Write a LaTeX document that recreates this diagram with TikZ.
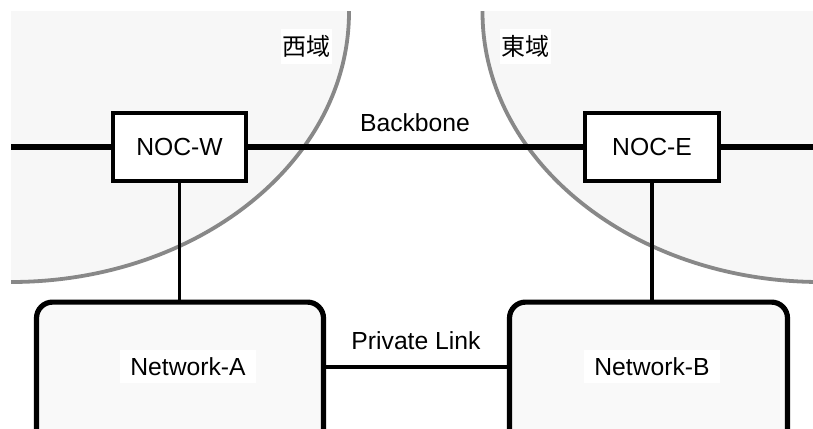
\documentclass[tikz,border=0pt]{standalone}
\usepackage{fontspec}
\setmainfont{Liberation Sans}
\newfontfamily\cjk{Noto Sans CJK JP}
\definecolor{regionfill}{HTML}{F7F7F7}
\definecolor{regionline}{HTML}{888888}
\definecolor{netfill}{HTML}{F9F9F9}
\begin{document}
\begin{tikzpicture}[x=1pt, y=-1pt,
  font=\fontsize{24.7}{30}\selectfont,
  region/.style={fill=regionfill, draw=regionline, line width=3.8pt},
  regionlabel/.style={fill=white, font=\cjk\fontsize{24}{29}\selectfont,
    minimum width=51pt, minimum height=34pt, inner sep=0pt},
  nocbox/.style={draw, line width=4.3pt, fill=white, minimum width=133pt,
    minimum height=68pt, inner sep=0pt},
  netbox/.style={draw, line width=5.2pt, fill=netfill, rounded corners=16pt,
    minimum height=170pt, inner sep=0pt, anchor=north},
  netlabel/.style={fill=white, minimum width=136pt, minimum height=33pt, inner sep=0pt},
  trunk/.style={line width=5.6pt},
  link/.style={line width=3.3pt}]
\useasboundingbox (0,0) rectangle (813,428);
\clip (0,0) rectangle (813,428);

% the two regions, each a quarter ellipse from a top corner
\begin{scope}
  \clip (11,12) rectangle (840,440);
  \path[region] (11,12) ellipse [x radius=338pt, y radius=270pt];
  \path[region] (820.5,12) ellipse [x radius=338pt, y radius=270pt];
\end{scope}
\node[regionlabel] (west) at (306,46.5) {西域};
\node[regionlabel] (east) at (525.5,46.5) {東域};

% operation centres on the backbone
\node[nocbox] (nocw) at (179.5,147) {NOC-W};
\node[nocbox, minimum width=134pt] (noce) at (652,147) {NOC-E};
\coordinate (wend) at (11,147);
\coordinate (eend) at (813,147);
\draw[trunk] (wend) -- (nocw);
\draw[trunk] (nocw) -- (noce);
\draw[trunk] (noce) -- (eend);
\node[anchor=base] (bblabel) at (415,131) {Backbone};

% customer networks
\node[netbox, minimum width=287pt] (neta) at (180,299.5) {};
\node[netbox, minimum width=278pt] (netb) at (648.5,299.5) {};
\node[netlabel] (netalabel) at (188,366.7) {Network-A};
\node[netlabel] (netblabel) at (652,366.7) {Network-B};

% access and private links
\draw[link] (nocw.south) -- (nocw.south |- neta.north);
\draw[link] (noce.south) -- (noce.south |- netb.north);
\coordinate (plk) at (416,367);
\draw[link] (plk -| neta.east) -- (plk -| netb.west);
\node[anchor=base] (pllabel) at (416,349.5) {Private Link};
\end{tikzpicture}
\end{document}
